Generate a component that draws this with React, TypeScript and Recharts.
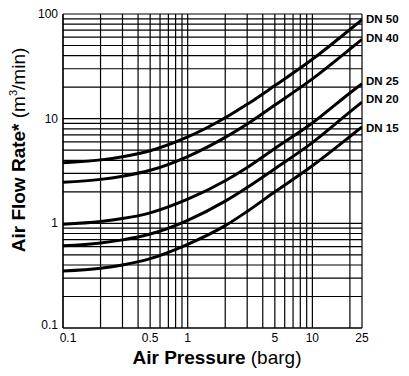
import React from 'react';
import { LineChart, Line, XAxis, YAxis, CartesianGrid, LabelList } from 'recharts';

// inlet pressure (barg)
const pressures = [0.1, 0.2, 0.3, 0.5, 1, 2, 3, 5, 10, 20, 25];

// air flow (m3/min) per nozzle size
const dn50 = [3.8, 4.04, 4.33, 4.94, 6.69, 10.2, 13.7, 20.7, 36.9, 71.1, 88.2];
const dn40 = [2.47, 2.63, 2.82, 3.21, 4.35, 6.62, 8.89, 13.5, 24.0, 46.2, 57.3];
const dn25 = [0.98, 1.04, 1.11, 1.26, 1.7, 2.55, 3.42, 5.2, 9.1, 17.6, 21.6];
const dn20 = [0.61, 0.65, 0.695, 0.79, 1.07, 1.63, 2.2, 3.32, 5.9, 11.6, 14.4];
const dn15 = [0.35, 0.372, 0.4, 0.46, 0.63, 0.95, 1.3, 2.0, 3.55, 6.75, 8.35];

const seriesNames = ['DN 50', 'DN 40', 'DN 25', 'DN 20', 'DN 15'];

// log grid lines and the few that get a label
const xGrid = [0.1, 0.2, 0.3, 0.4, 0.5, 0.6, 0.7, 0.8, 0.9, 1, 2, 3, 4, 5, 6, 7, 8, 9, 10, 20, 25];
const xLabels = [0.1, 0.5, 1, 5, 10, 25];
const yGrid = [
  0.1, 0.2, 0.3, 0.4, 0.5, 0.6, 0.7, 0.8, 0.9,
  1, 2, 3, 4, 5, 6, 7, 8, 9,
  10, 20, 30, 40, 50, 60, 70, 80, 90, 100,
];
const yLabels = [0.1, 1, 10, 100];

const FONT = '"Liberation Sans", Arial, Helvetica, sans-serif';

const rows = pressures.map((p, i) => ({
  p,
  dn50: dn50[i],
  dn40: dn40[i],
  dn25: dn25[i],
  dn20: dn20[i],
  dn15: dn15[i],
}));

const keys = ['dn50', 'dn40', 'dn25', 'dn20', 'dn15'];
const labelDy = [3, 3, 1, 1, 5];

const endLabel = (name: string, dy: number) => (props: any) => {
  const { x, y, index } = props;
  if (index !== rows.length - 1) return null;
  return (
    <text x={x + 4} y={y + dy} fontFamily={FONT} fontWeight="bold" fontSize={11.5} fill="#000">
      {name}
    </text>
  );
};

const XTick = (props: any) => {
  const { x, y, payload } = props;
  if (!xLabels.includes(payload.value)) return null;
  const shift = payload.value === 0.1 ? 5 : 0;
  return (
    <text x={x + shift} y={y + 9} textAnchor="middle" fontFamily={FONT} fontSize={12} fill="#000">
      {payload.value}
    </text>
  );
};

const YTick = (props: any) => {
  const { x, y, payload } = props;
  if (!yLabels.includes(payload.value)) return null;
  const lift = payload.value === 0.1 ? -3 : 0;
  return (
    <text x={x} y={y + 4 + lift} textAnchor="end" fontFamily={FONT} fontSize={12} fill="#000">
      {payload.value}
    </text>
  );
};

export default function App() {
  return (
    <div style={{ position: 'absolute', left: 0, top: 0, width: 409, height: 376, background: '#fff' }}>
      <LineChart width={409} height={376} data={rows} margin={{ top: 14, right: 47, bottom: 0, left: 0 }}>
        <CartesianGrid stroke="#000" strokeWidth={1.2} />
        <XAxis
          dataKey="p"
          type="number"
          scale="log"
          domain={[0.1, 25]}
          ticks={xGrid}
          interval={0}
          allowDataOverflow
          height={48}
          tickLine={false}
          axisLine={{ stroke: '#000', strokeWidth: 1.2 }}
          tickSize={3}
          tickMargin={2}
          tick={<XTick />}
        />
        <YAxis
          type="number"
          scale="log"
          domain={[0.1, 100]}
          ticks={yGrid}
          interval={0}
          allowDataOverflow
          width={63}
          tickLine={false}
          axisLine={{ stroke: '#000', strokeWidth: 1.2 }}
          tickSize={3}
          tickMargin={2}
          tick={<YTick />}
        />
        {keys.map((k, i) => (
          <Line
            key={k}
            dataKey={k}
            type="monotone"
            stroke="#000"
            strokeWidth={3}
            dot={false}
            isAnimationActive={false}
          >
            <LabelList dataKey={k} content={endLabel(seriesNames[i], labelDy[i])} />
          </Line>
        ))}
      </LineChart>
      <svg width={409} height={376} style={{ position: 'absolute', left: 0, top: 0, pointerEvents: 'none' }}>
        <text x={217} y={364} textAnchor="middle" fontFamily={FONT} fontSize={19} fill="#000">
          <tspan fontWeight="bold">Air Pressure</tspan>
          <tspan> (barg)</tspan>
        </text>
        <text
          transform="translate(25,150) rotate(-90)"
          textAnchor="middle"
          fontFamily={FONT}
          fontSize={19}
          fill="#000"
        >
          <tspan fontWeight="bold">Air Flow Rate*</tspan>
          <tspan> (m</tspan>
          <tspan fontSize={11} dy={-8}>3</tspan>
          <tspan dy={8}>/min)</tspan>
        </text>
      </svg>
    </div>
  );
}
